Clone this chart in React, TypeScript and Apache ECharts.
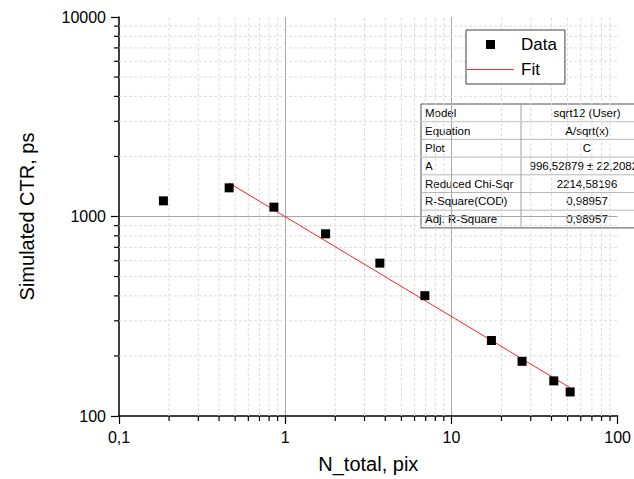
import React, { useEffect, useRef } from "react";
import * as echarts from "echarts";

const FONT = "Arial, 'Liberation Sans', sans-serif";

// Data
const dataX = [0.185, 0.46, 0.855, 1.75, 3.71, 6.92, 17.4, 26.6, 41.3, 51.8];
const dataY = [1198, 1392, 1114, 819, 584, 401, 239, 188, 150, 132];

// Fit line endpoints (A/sqrt(x), A = 996.5)
const fitX = [0.46, 51.8];
const fitY = [1471, 138.5];

// Axes
const xMin = 0.1;
const xMax = 100;
const yMin = 100;
const yMax = 10000;
const xTickLabels = ["0,1", "1", "10", "100"];
const yTickLabels = ["100", "1000", "10000"];
const xMinorTicks = [0.2, 0.3, 0.4, 0.5, 0.6, 0.7, 0.8, 0.9, 2, 3, 4, 5, 6, 7, 8, 9, 20, 30, 40, 50, 60, 70, 80, 90];
const yMinorTicks = [200, 300, 400, 500, 600, 700, 800, 900, 2000, 3000, 4000, 5000, 6000, 7000, 8000, 9000];

// Fit results table
const tableLabels = ["Model", "Equation", "Plot", "A", "Reduced Chi-Sqr", "R-Square(COD)", "Adj. R-Square"];
const tableValues = ["sqrt12 (User)", "A/sqrt(x)", "C", "996,52879 ± 22,20824", "2214,58196", "0,98957", "0,98957"];

export default function App() {
  const ref = useRef<HTMLDivElement>(null);

  useEffect(() => {
    if (!ref.current) return;
    const chart = echarts.init(ref.current, null, { renderer: "svg" });

    const tLeft = 421;
    const tTop = 104;
    const rowH = 17.7;
    const col1W = 100;
    const col2W = 132;
    const tableChildren: any[] = [];
    tableChildren.push({
      type: "rect",
      shape: { x: tLeft, y: tTop, width: col1W + col2W, height: rowH * tableLabels.length },
      style: { fill: "#ffffff", stroke: "#505050", lineWidth: 1 },
    });
    for (let i = 1; i < tableLabels.length; i++) {
      tableChildren.push({
        type: "line",
        shape: { x1: tLeft, y1: tTop + rowH * i, x2: tLeft + col1W + col2W, y2: tTop + rowH * i },
        style: { stroke: "#b8b8b8", lineWidth: 1 },
      });
    }
    tableChildren.push({
      type: "line",
      shape: { x1: tLeft + col1W, y1: tTop, x2: tLeft + col1W, y2: tTop + rowH * tableLabels.length },
      style: { stroke: "#a0a0a0", lineWidth: 1 },
    });
    tableLabels.forEach((lab, i) => {
      tableChildren.push({
        type: "text",
        x: tLeft + 4,
        y: tTop + rowH * i + rowH / 2,
        style: { text: lab, fill: "#000", fontSize: 11.5, fontFamily: FONT, verticalAlign: "middle", align: "left" },
      });
      tableChildren.push({
        type: "text",
        x: tLeft + col1W + col2W / 2,
        y: tTop + rowH * i + rowH / 2,
        style: { text: tableValues[i], fill: "#000", fontSize: 11.5, fontFamily: FONT, verticalAlign: "middle", align: "center" },
      });
    });

    const option: any = {
      animation: false,
      backgroundColor: "#ffffff",
      grid: { left: 119, right: 16, top: 17, bottom: 63 },
      legend: {
        orient: "vertical",
        left: 466,
        top: 30,
        padding: [6, 8, 6, 1],
        itemGap: 8,
        itemWidth: 47,
        itemHeight: 9,
        backgroundColor: "#ffffff",
        borderColor: "#404040",
        borderWidth: 1,
        symbolKeepAspect: true,
        textStyle: { fontSize: 17, color: "#000", fontFamily: FONT, lineHeight: 17, padding: [0, 0, 0, 2] },
        data: [
          { name: "Data", icon: "path://M0,0H10V10H0Z", itemStyle: { color: "#000", opacity: 1, borderWidth: 0 } },
          {
            name: "Fit",
            icon: "path://M0,0H94V2H0Z",
            itemStyle: { color: "#ff3030", opacity: 1, borderWidth: 0 },
            lineStyle: { color: "#ff3030", width: 0, opacity: 1 },
          },
        ],
      },
      xAxis: {
        type: "log",
        logBase: 10,
        min: xMin,
        max: xMax,
        name: "N_total, pix",
        nameLocation: "middle",
        nameGap: 38,
        nameTextStyle: { fontSize: 20, color: "#000", fontFamily: FONT },
        axisLine: { show: true, onZero: false, lineStyle: { color: "#000", width: 1.5 } },
        axisTick: { show: true, inside: false, length: 8, lineStyle: { color: "#000", width: 1.2 } },
        axisLabel: {
          fontSize: 16,
          color: "#000",
          fontFamily: FONT,
          margin: 13,
          formatter: (_v: number, i: number) => xTickLabels[i] ?? "",
        },
        splitLine: { show: true, showMinLine: false, showMaxLine: false, lineStyle: { color: "#a8a8a8", width: 1 } },
      },
      yAxis: {
        type: "log",
        logBase: 10,
        min: yMin,
        max: yMax,
        name: "Simulated CTR, ps",
        nameLocation: "middle",
        nameGap: 82,
        nameTextStyle: { fontSize: 20, color: "#000", fontFamily: FONT },
        axisLine: { show: true, onZero: false, lineStyle: { color: "#000", width: 1.5 } },
        axisTick: { show: true, inside: false, length: 8, lineStyle: { color: "#000", width: 1.2 } },
        axisLabel: {
          fontSize: 16,
          color: "#000",
          fontFamily: FONT,
          margin: 13,
          formatter: (_v: number, i: number) => yTickLabels[i] ?? "",
        },
        splitLine: { show: true, showMinLine: false, showMaxLine: false, lineStyle: { color: "#a8a8a8", width: 1 } },
      },
      series: [
        {
          name: "xMinor",
          type: "custom",
          z: 1,
          silent: true,
          data: xMinorTicks.map((v) => [v, yMin]),
          renderItem: (_p: any, api: any) => {
            const x = api.value(0);
            const b = api.coord([x, yMin]);
            const t = api.coord([x, yMax]);
            return {
              type: "group",
              children: [
                { type: "line", shape: { x1: b[0], y1: b[1], x2: t[0], y2: t[1] }, style: { stroke: "#dcdcdc", lineWidth: 1, lineDash: [3, 2] } },
                { type: "line", shape: { x1: b[0], y1: b[1], x2: b[0], y2: b[1] + 5 }, style: { stroke: "#000", lineWidth: 1.2 } },
              ],
            };
          },
        },
        {
          name: "yMinor",
          type: "custom",
          z: 1,
          silent: true,
          data: yMinorTicks.map((v) => [xMin, v]),
          renderItem: (_p: any, api: any) => {
            const y = api.value(1);
            const l = api.coord([xMin, y]);
            const r = api.coord([xMax, y]);
            return {
              type: "group",
              children: [
                { type: "line", shape: { x1: l[0], y1: l[1], x2: r[0], y2: r[1] }, style: { stroke: "#dcdcdc", lineWidth: 1, lineDash: [3, 2] } },
                { type: "line", shape: { x1: l[0], y1: l[1], x2: l[0] - 5, y2: l[1] }, style: { stroke: "#000", lineWidth: 1.2 } },
              ],
            };
          },
        },
        {
          name: "Fit",
          type: "line",
          z: 3,
          symbol: "none",
          color: "#ff2020",
          data: fitX.map((x, i) => [x, fitY[i]]),
          lineStyle: { color: "#ff2020", width: 1 },
          itemStyle: { color: "#ff3030" },
        },
        {
          name: "Data",
          type: "scatter",
          z: 4,
          symbol: "rect",
          symbolSize: 9,
          color: "#000",
          data: dataX.map((x, i) => [x, dataY[i]]),
          itemStyle: { color: "#000000", opacity: 1, borderWidth: 0 },
        },
      ],
      graphic: [{ type: "group", z: 100, children: tableChildren }],
    };

    chart.setOption(option);
    return () => chart.dispose();
  }, []);

  return (
    <div
      ref={ref}
      style={{ position: "fixed", left: 0, top: 0, width: 634, height: 479, background: "#fff" }}
    />
  );
}
